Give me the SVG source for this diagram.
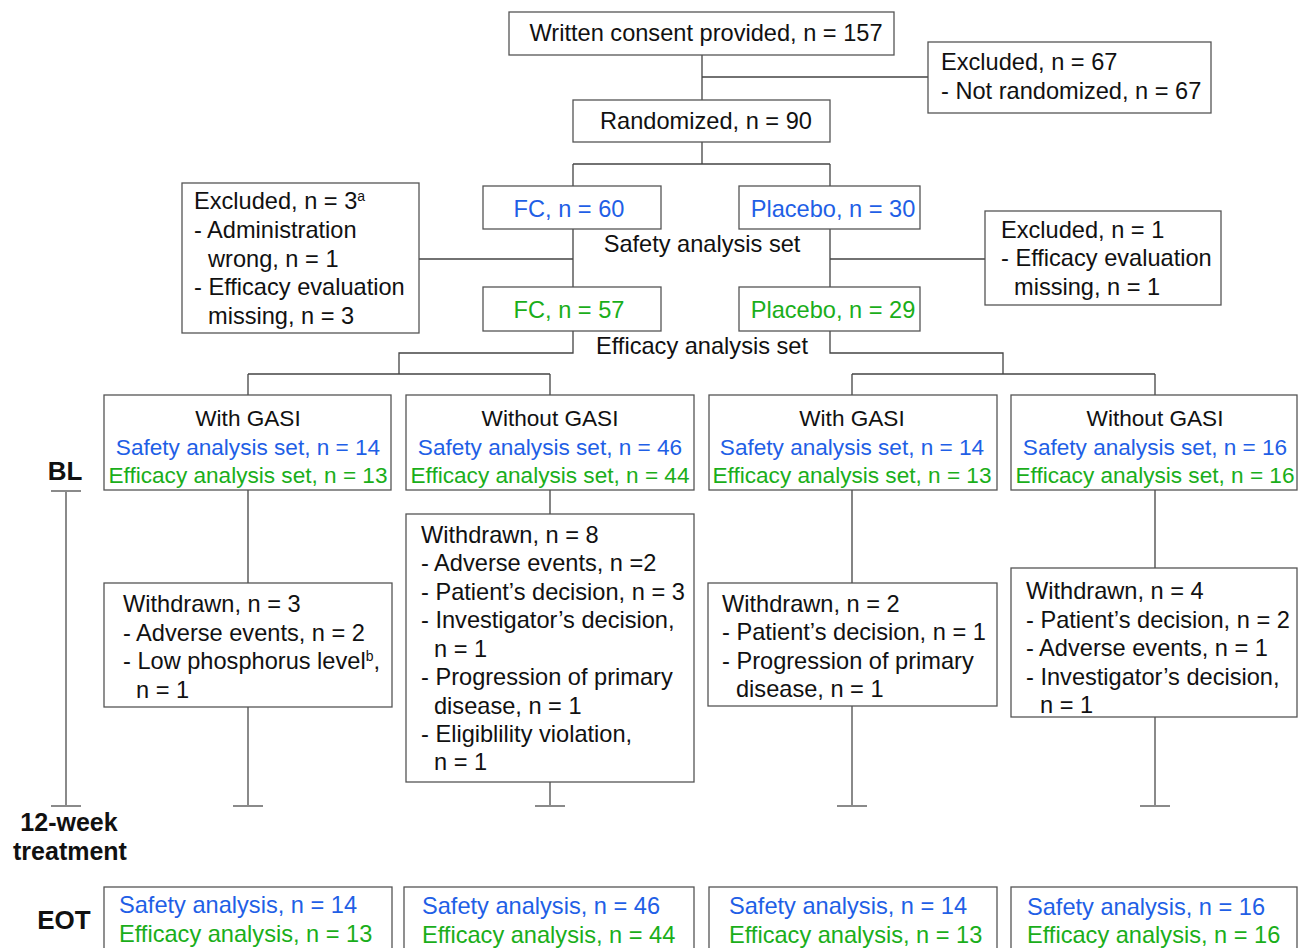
<svg xmlns="http://www.w3.org/2000/svg" width="1306" height="948" viewBox="0 0 1306 948">
<style>
  text { font-family: "Liberation Sans", Arial, sans-serif; font-size: 23.6px; fill: #111; }
  .c { text-anchor: middle; }
  .bl { font-size: 22.6px; }
  .b { fill: #1f5fe6; }
  .g { fill: #1aae1a; }
  .lbl { font-weight: bold; font-size: 26px; text-anchor: middle; }
  .tl { font-size: 25px; }
  .box { fill: #fff; stroke: #555; stroke-width: 1.3; }
  .ln { fill: none; stroke: #444; stroke-width: 1.3; }
  .gl { fill: none; stroke: #8a8a8a; stroke-width: 2; }
  .sup { font-size: 14px; }
</style>
<rect width="1306" height="948" fill="#fff"/>

<g id="connectors">
  <path class="ln" d="M702 55 V100 M702 77 H928"/>
  <path class="ln" d="M702 142 V164 M573 164 H830 M573 164 V186 M830 164 V186"/>
  <path class="ln" d="M573 229 V287 M419 259 H573"/>
  <path class="ln" d="M830 229 V287 M830 259 H985"/>
  <path class="ln" d="M573 331 V353 H399 V374 M248 374 H550 M248 374 V395 M550 374 V395"/>
  <path class="ln" d="M830 331 V353 H1003 V374 M852 374 H1155 M852 374 V395 M1155 374 V395"/>
  <path class="ln" d="M248 490 V583 M550 490 V514 M852 490 V583 M1155 490 V568"/>
  <path class="gl" d="M248 707 V806 M233 806 H263"/>
  <path class="gl" d="M550 782 V806 M535 806 H565"/>
  <path class="gl" d="M852 706 V806 M837 806 H867"/>
  <path class="gl" d="M1155 717 V806 M1140 806 H1170"/>
</g>

<g id="timeline">
  <text class="lbl" x="65" y="480">BL</text>
  <path class="gl" d="M66 491 V806 M51 491 H81 M51 806 H81"/>
  <text class="lbl tl" x="69" y="831">12-week</text>
  <text class="lbl tl" x="70" y="860">treatment</text>
  <text class="lbl" x="64" y="929">EOT</text>
</g>

<g id="consent">
  <rect class="box" x="509" y="12" width="385" height="43"/>
  <text class="c" x="706" y="41">Written consent provided, n = 157</text>
</g>

<g id="excluded67">
  <rect class="box" x="928" y="42" width="283" height="71"/>
  <text x="941" y="70">Excluded, n = 67</text>
  <text x="941" y="99">- Not randomized, n = 67</text>
</g>

<g id="randomized">
  <rect class="box" x="573" y="100" width="257" height="42"/>
  <text class="c" x="706" y="129">Randomized, n = 90</text>
</g>

<g id="fc60">
  <rect class="box" x="483" y="186" width="178" height="43"/>
  <text class="c b" x="569" y="217">FC, n = 60</text>
</g>

<g id="placebo30">
  <rect class="box" x="739" y="186" width="181" height="43"/>
  <text class="c b" x="833" y="217">Placebo, n = 30</text>
</g>

<g id="safety-label">
  <text class="c" x="702" y="252">Safety analysis set</text>
</g>

<g id="excluded3">
  <rect class="box" x="182" y="183" width="237" height="150"/>
  <text x="194" y="209">Excluded, n = 3<tspan class="sup" dy="-8">a</tspan></text>
  <text x="194" y="238">- Administration</text>
  <text x="208" y="267">wrong, n = 1</text>
  <text x="194" y="295">- Efficacy evaluation</text>
  <text x="208" y="324">missing, n = 3</text>
</g>

<g id="excluded1">
  <rect class="box" x="985" y="211" width="236" height="94"/>
  <text x="1001" y="238">Excluded, n = 1</text>
  <text x="1001" y="266">- Efficacy evaluation</text>
  <text x="1014" y="295">missing, n = 1</text>
</g>

<g id="fc57">
  <rect class="box" x="483" y="287" width="178" height="44"/>
  <text class="c g" x="569" y="318">FC, n = 57</text>
</g>

<g id="placebo29">
  <rect class="box" x="739" y="287" width="181" height="44"/>
  <text class="c g" x="833" y="318">Placebo, n = 29</text>
</g>

<g id="efficacy-label">
  <text class="c" x="702" y="354">Efficacy analysis set</text>
</g>

<g id="bl1">
  <rect class="box" x="104" y="395" width="287" height="95"/>
  <text class="c bl" x="248" y="426">With GASI</text>
  <text class="c bl b" x="248" y="455">Safety analysis set, n = 14</text>
  <text class="c bl g" x="248" y="483">Efficacy analysis set, n = 13</text>
</g>

<g id="bl2">
  <rect class="box" x="406" y="395" width="288" height="95"/>
  <text class="c bl" x="550" y="426">Without GASI</text>
  <text class="c bl b" x="550" y="455">Safety analysis set, n = 46</text>
  <text class="c bl g" x="550" y="483">Efficacy analysis set, n = 44</text>
</g>

<g id="bl3">
  <rect class="box" x="709" y="395" width="288" height="95"/>
  <text class="c bl" x="852" y="426">With GASI</text>
  <text class="c bl b" x="852" y="455">Safety analysis set, n = 14</text>
  <text class="c bl g" x="852" y="483">Efficacy analysis set, n = 13</text>
</g>

<g id="bl4">
  <rect class="box" x="1011" y="395" width="286" height="95"/>
  <text class="c bl" x="1155" y="426">Without GASI</text>
  <text class="c bl b" x="1155" y="455">Safety analysis set, n = 16</text>
  <text class="c bl g" x="1155" y="483">Efficacy analysis set, n = 16</text>
</g>

<g id="withdrawn1">
  <rect class="box" x="104" y="583" width="288" height="124"/>
  <text x="123" y="612">Withdrawn, n = 3</text>
  <text x="123" y="641">- Adverse events, n = 2</text>
  <text x="123" y="669">- Low phosphorus level<tspan class="sup" dy="-8">b</tspan><tspan dy="8">,</tspan></text>
  <text x="136" y="698">n = 1</text>
</g>

<g id="withdrawn2">
  <rect class="box" x="406" y="514" width="288" height="268"/>
  <text x="421" y="543">Withdrawn, n = 8</text>
  <text x="421" y="571">- Adverse events, n =2</text>
  <text x="421" y="600">- Patient’s decision, n = 3</text>
  <text x="421" y="628">- Investigator’s decision,</text>
  <text x="434" y="657">n = 1</text>
  <text x="421" y="685">- Progression of primary</text>
  <text x="434" y="714">disease, n = 1</text>
  <text x="421" y="742">- Eligiblility violation,</text>
  <text x="434" y="770">n = 1</text>
</g>

<g id="withdrawn3">
  <rect class="box" x="708" y="583" width="289" height="123"/>
  <text x="722" y="612">Withdrawn, n = 2</text>
  <text x="722" y="640">- Patient’s decision, n = 1</text>
  <text x="722" y="669">- Progression of primary</text>
  <text x="736" y="697">disease, n = 1</text>
</g>

<g id="withdrawn4">
  <rect class="box" x="1011" y="568" width="286" height="149"/>
  <text x="1026" y="599">Withdrawn, n = 4</text>
  <text x="1026" y="628">- Patient’s decision, n = 2</text>
  <text x="1026" y="656">- Adverse events, n = 1</text>
  <text x="1026" y="685">- Investigator’s decision,</text>
  <text x="1040" y="713">n = 1</text>
</g>

<g id="eot1">
  <rect class="box" x="104" y="887" width="288" height="70"/>
  <text class="b" x="119" y="913">Safety analysis, n = 14</text>
  <text class="g" x="119" y="942">Efficacy analysis, n = 13</text>
</g>

<g id="eot2">
  <rect class="box" x="404" y="887" width="290" height="70"/>
  <text class="b" x="422" y="914">Safety analysis, n = 46</text>
  <text class="g" x="422" y="943">Efficacy analysis, n = 44</text>
</g>

<g id="eot3">
  <rect class="box" x="709" y="887" width="288" height="70"/>
  <text class="b" x="729" y="914">Safety analysis, n = 14</text>
  <text class="g" x="729" y="943">Efficacy analysis, n = 13</text>
</g>

<g id="eot4">
  <rect class="box" x="1011" y="887" width="286" height="70"/>
  <text class="b" x="1027" y="915">Safety analysis, n = 16</text>
  <text class="g" x="1027" y="943">Efficacy analysis, n = 16</text>
</g>
</svg>
